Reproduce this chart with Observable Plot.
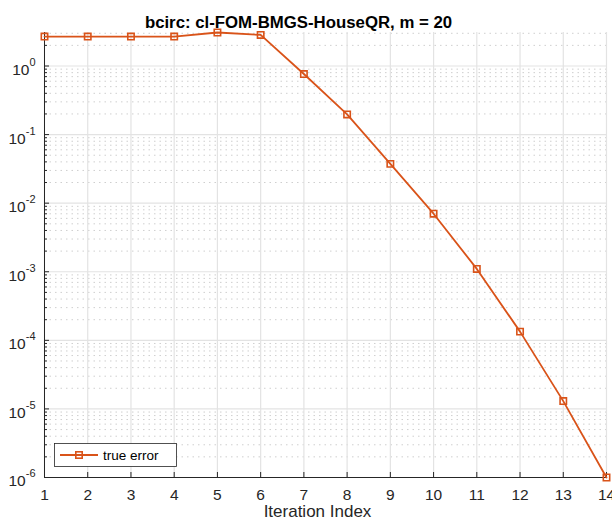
<!DOCTYPE html>
<html><head><meta charset="utf-8">
<script src="https://cdn.jsdelivr.net/npm/d3@7"></script>
<script src="https://cdn.jsdelivr.net/npm/@observablehq/plot@0.6"></script>
<style>
body{margin:0;background:#fff}
svg{display:block}
</style>
</head><body><div id="chart"></div>
<script>
const iterations = [1,2,3,4,5,6,7,8,9,10,11,12,13,14];
const trueError = [2.69, 2.69, 2.69, 2.69, 3.08, 2.84, 0.764, 0.197, 0.0374, 0.00702, 0.00110, 1.34e-4, 1.30e-5, 1.0e-6];
const xTicks = [1,2,3,4,5,6,7,8,9,10,11,12,13,14];
const yTickExponents = [0,-1,-2,-3,-4,-5,-6];
const titleText = "bcirc: cl-FOM-BMGS-HouseQR, m = 20";
const xLabel = "Iteration Index";
const legendLabel = "true error";

const color = "#D95319";
const axisColor = "#262626";
const font = "'Liberation Sans', Arial, Helvetica, sans-serif";

const data = iterations.map((it, i) => ({it, err: trueError[i]}));
const yDomain = d3.extent(trueError);
const yMajor = yTickExponents.map(e => +("1e" + e));
const yMinor = [];
for (const e of yTickExponents) for (let m = 2; m <= 9; m++) {
  const v = +(m + "e" + e);
  if (v >= yDomain[0] && v <= yDomain[1]) yMinor.push(v);
}
const expOf = new Map(yMajor.map((v, i) => [v, yTickExponents[i]]));

const chart = Plot.plot({
  width: 612, height: 522,
  marginLeft: 44, marginRight: 6, marginTop: 32, marginBottom: 45,
  style: {fontFamily: font, fontSize: "15.5px", color: axisColor, background: "#fff"},
  x: {domain: [1, 14], axis: null},
  y: {type: "log", domain: yDomain, axis: null},
  marks: [
    Plot.ruleY(yMinor, {stroke: "#cfcfcf", strokeDasharray: "1.5,4", strokeWidth: 1}),
    Plot.ruleY(yMajor, {stroke: "#e3e3e3", strokeWidth: 1.2}),
    Plot.ruleX(xTicks, {stroke: "#e3e3e3", strokeWidth: 1.2}),
    Plot.axisX({ticks: xTicks, tickSize: -5, tickFormat: () => "", stroke: axisColor, label: null}),
    Plot.axisX({ticks: xTicks, tickSize: 0, tickPadding: 11, fontSize: 15.5, fill: axisColor, label: null, tickFormat: d => String(d)}),
    Plot.axisY({ticks: yMajor, tickSize: -5, tickFormat: () => "", stroke: axisColor, label: null}),
    Plot.axisY({ticks: yMinor, tickSize: -3, tickFormat: () => "", stroke: axisColor, label: null}),
    Plot.axisY({ticks: yMajor, tickSize: 0, tickPadding: 9, dy: 4, fontSize: 15.5, fill: axisColor, label: null,
                tickFormat: d => "10^" + expOf.get(d)}),
    Plot.ruleX([d3.min(iterations)], {stroke: axisColor, strokeWidth: 1}),
    Plot.ruleY([yDomain[0]], {stroke: axisColor, strokeWidth: 1}),
    Plot.line(data, {x: "it", y: "err", stroke: color, strokeWidth: 1.8}),
    Plot.dot(data, {x: "it", y: "err", symbol: "square", r: 3.6, stroke: color, strokeWidth: 1.6, fill: "none"}),
    Plot.text([titleText], {text: d => d, frameAnchor: "top", dy: -16, dx: -27, fontWeight: "bold", fontSize: 16.8, fill: "#000"}),
    Plot.text([xLabel], {text: d => d, frameAnchor: "bottom", dy: 39, dx: -8, fontSize: 17, fill: axisColor})
  ]
});

// superscript exponents on y tick labels
d3.select(chart).selectAll('g[aria-label="y-axis tick label"] text').each(function() {
  const t = d3.select(this);
  const s = t.text();
  const parts = s.split("^");
  if (parts.length !== 2) return;
  t.text("");
  t.append("tspan").text(parts[0]);
  t.append("tspan").attr("dy", "-9").attr("font-size", "11").text(parts[1]);
});

// legend (inside axes, bottom-left)
const svg = d3.select(chart);
const lg = svg.append("g").attr("aria-label", "legend");
lg.append("rect").attr("x", 54.5).attr("y", 443.5).attr("width", 122).attr("height", 23)
  .attr("fill", "#fff").attr("stroke", axisColor).attr("stroke-width", 0.8);
lg.append("line").attr("x1", 60).attr("x2", 98).attr("y1", 455).attr("y2", 455)
  .attr("stroke", color).attr("stroke-width", 1.8);
lg.append("rect").attr("x", 79 - 3.2).attr("y", 455 - 3.2).attr("width", 6.4).attr("height", 6.4)
  .attr("fill", "none").attr("stroke", color).attr("stroke-width", 1.6);
lg.append("text").attr("x", 103).attr("y", 455).attr("dy", "0.35em").attr("text-anchor", "start")
  .attr("font-size", 13.5).attr("font-family", font).attr("fill", "#000").text(legendLabel);

document.getElementById("chart").append(chart);
</script>
</body></html>
